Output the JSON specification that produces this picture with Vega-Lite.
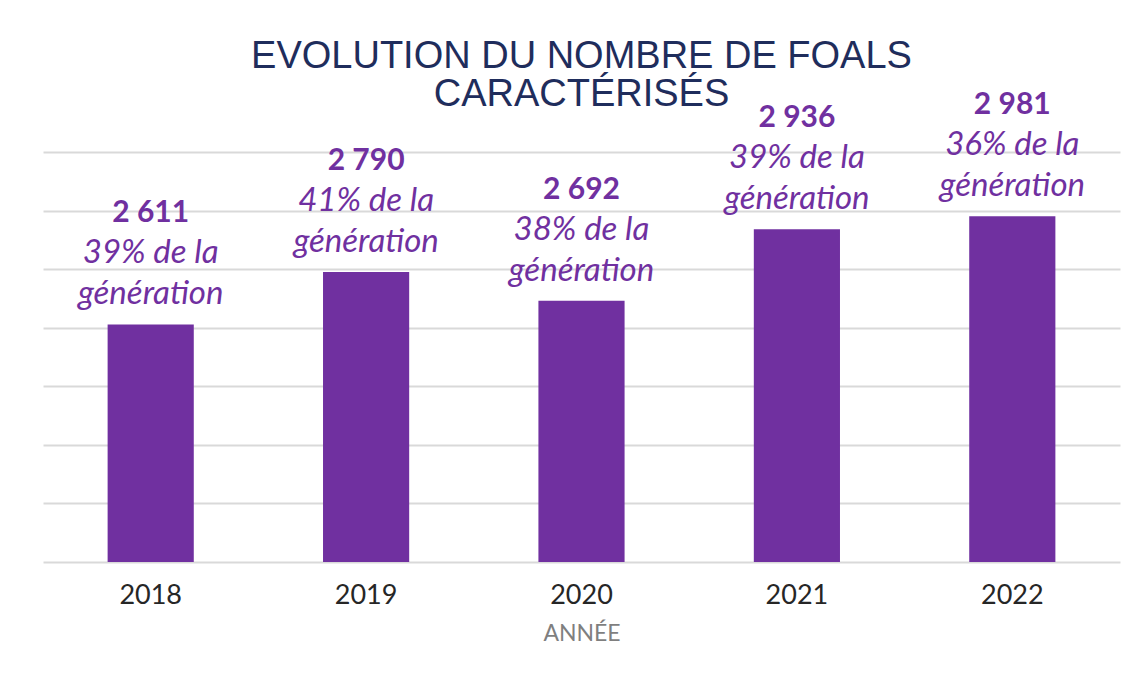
{
  "$schema": "https://vega.github.io/schema/vega-lite/v6.json",
  "width": 1077,
  "height": 410,
  "autosize": {"type": "none"},
  "padding": {"left": 43, "top": 152, "right": 20, "bottom": 123},
  "background": "white",
  "title": {
    "text": ["EVOLUTION DU NOMBRE DE FOALS", "CARACTÉRISÉS"],
    "font": "Liberation Sans",
    "fontSize": 38,
    "fontWeight": "normal",
    "color": "#1F2D5C",
    "anchor": "middle",
    "lineHeight": 38,
    "offset": -24
  },
  "config": {
    "locale": {"number": {"decimal": ",", "thousands": " ", "grouping": [3], "currency": ["", " €"]}},
    "view": {"stroke": null}
  },
  "data": {
    "values": [
      {"annee": "2018", "foals": 2611, "part": "39% de la"},
      {"annee": "2019", "foals": 2790, "part": "41% de la"},
      {"annee": "2020", "foals": 2692, "part": "38% de la"},
      {"annee": "2021", "foals": 2936, "part": "39% de la"},
      {"annee": "2022", "foals": 2981, "part": "36% de la"}
    ]
  },
  "encoding": {
    "x": {
      "field": "annee",
      "type": "ordinal",
      "scale": {"paddingInner": 0.6, "paddingOuter": 0.3},
      "axis": {
        "title": "ANNÉE",
        "labelAngle": 0,
        "labelFont": "Lato",
        "labelFontSize": 27,
        "labelColor": "#262626",
        "labelPadding": 20,
        "domain": false,
        "ticks": false,
        "titleFont": "Lato",
        "titleFontSize": 23,
        "titleFontWeight": "normal",
        "titleColor": "#7F7F7F",
        "titlePadding": 14
      }
    },
    "y": {
      "field": "foals",
      "type": "quantitative",
      "scale": {"domain": [1800, 3200], "zero": false, "nice": false},
      "axis": {
        "title": null,
        "labels": false,
        "ticks": false,
        "domain": false,
        "values": [1800, 2000, 2200, 2400, 2600, 2800, 3000, 3200],
        "gridColor": "#D9D9D9",
        "gridWidth": 2
      }
    }
  },
  "layer": [
    {"mark": {"type": "bar", "color": "#7030A0", "clip": true}},
    {
      "mark": {"type": "text", "font": "Lato", "fontSize": 30, "fontWeight": "bold", "color": "#7030A0", "baseline": "alphabetic", "dy": -102},
      "encoding": {"text": {"field": "foals", "type": "quantitative", "format": ","}}
    },
    {
      "mark": {"type": "text", "font": "Lato", "fontSize": 33, "fontStyle": "italic", "color": "#7030A0", "baseline": "alphabetic", "dy": -61},
      "encoding": {"text": {"field": "part", "type": "nominal"}}
    },
    {
      "mark": {"type": "text", "font": "Lato", "fontSize": 33, "fontStyle": "italic", "color": "#7030A0", "baseline": "alphabetic", "dy": -20},
      "encoding": {"text": {"value": "génération"}}
    }
  ]
}
